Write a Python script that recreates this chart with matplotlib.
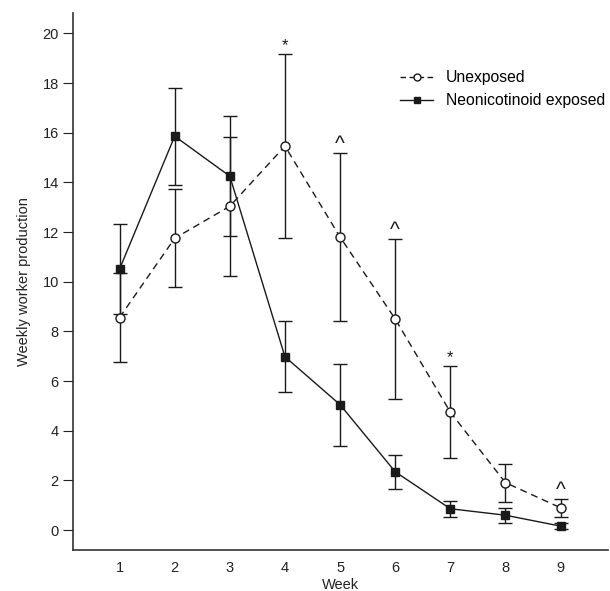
import matplotlib
matplotlib.use("Agg")
import matplotlib.pyplot as plt
from matplotlib.lines import Line2D

plt.rcParams['font.family'] = ['Liberation Sans', 'DejaVu Sans']

weeks = [1, 2, 3, 4, 5, 6, 7, 8, 9]
unexposed = [8.56, 11.75, 13.04, 15.46, 11.80, 8.50, 4.75, 1.91, 0.90]
unexposed_err = [1.81, 1.97, 2.80, 3.70, 3.40, 3.23, 1.84, 0.77, 0.36]
exposed = [10.51, 15.86, 14.25, 6.98, 5.05, 2.35, 0.86, 0.60, 0.16]
exposed_err = [1.80, 1.95, 2.42, 1.43, 1.65, 0.68, 0.32, 0.30, 0.12]
sig_weeks = [4, 5, 6, 7, 9]
sig_marks = ['*', '^', '^', '*', '^']

fig = plt.figure(figsize=(6.10, 5.91), dpi=100)
ax = fig.add_axes([0.1192, 0.0694, 0.8775, 0.9086])

col = '#1a1a1a'
dash = (0, (5, 3.5))
ax.errorbar(weeks, unexposed, yerr=unexposed_err, fmt='o', color=col,
            mfc='white', mec=col, ms=6.5, mew=1.0, ecolor=col, elinewidth=1.0,
            capsize=5, capthick=1.0, ls=dash, lw=1.0, zorder=3)
ax.errorbar(weeks, exposed, yerr=exposed_err, fmt='s', color=col,
            mfc=col, mec=col, ms=6, mew=1.0, ecolor=col, elinewidth=1.0,
            capsize=5, capthick=1.0, ls='-', lw=1.0, zorder=3)

for w, m in zip(sig_weeks, sig_marks):
    i = weeks.index(w)
    top = unexposed[i] + unexposed_err[i]
    if m == '^':
        ax.annotate(m, (w, top), xytext=(0, -1), textcoords='offset points',
                    ha='center', va='bottom', fontsize=15, color=col)
    else:
        ax.annotate(m, (w, top), xytext=(0, 1), textcoords='offset points',
                    ha='center', va='bottom', fontsize=12, color=col)

ax.set_xlim(0.15, 9.86)
ax.set_ylim(-0.8, 20.82)
ax.set_xticks(weeks)
ax.set_yticks(range(0, 21, 2))
ax.tick_params(axis='x', length=0, pad=8, labelsize=10.5, colors='#222222')
ax.tick_params(axis='y', length=7, width=0.8, direction='out', pad=3,
               labelsize=10.5, colors='#222222')
for s in ['top', 'right']:
    ax.spines[s].set_visible(False)
for s in ['left', 'bottom']:
    ax.spines[s].set_linewidth(1.2)
    ax.spines[s].set_color('#333333')

ax.set_xlabel('Week', fontsize=10.5, labelpad=2, color='#222222')
ax.set_ylabel('Weekly worker production', fontsize=10.5, labelpad=8, color='#222222')

handles = [
    Line2D([], [], color=col, ls=(0, (4, 2.5)), lw=1.0, marker='o', ms=5,
           mfc='white', mec=col, mew=1.0),
    Line2D([], [], color=col, ls='-', lw=1.0, marker='s', ms=5,
           mfc=col, mec=col),
]
ax.legend(handles, ['Unexposed', 'Neonicotinoid exposed'],
          loc='upper left', bbox_to_anchor=(0.612, 0.893), frameon=False,
          fontsize=11.3, handlelength=2.1, handletextpad=0.8,
          labelspacing=0.5, borderpad=0, borderaxespad=0)

fig.savefig('out.png', dpi=100)
